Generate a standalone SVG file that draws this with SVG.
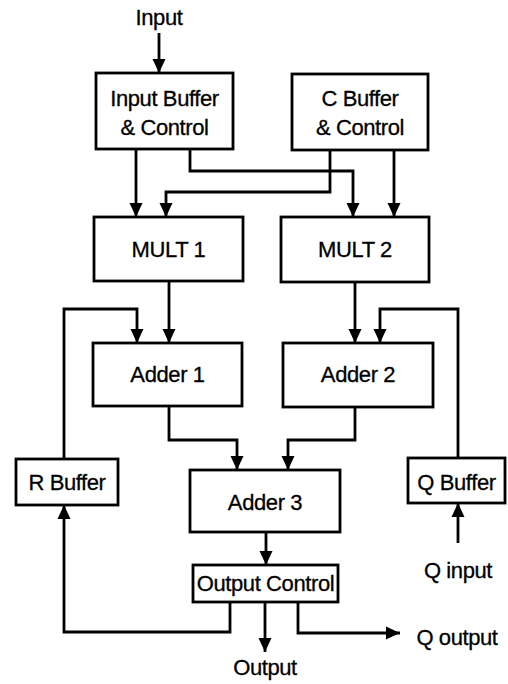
<svg xmlns="http://www.w3.org/2000/svg" width="508" height="684" viewBox="0 0 508 684">
  <style>
    .box { fill: #ffffff; stroke: #000000; stroke-width: 2.8; }
    .lbl { font-family: "Liberation Sans", Arial, sans-serif; font-size: 22px; letter-spacing: -0.4px; fill: #000000; stroke: #000000; stroke-width: 0.3; text-anchor: middle; }
    .wire { fill: none; stroke: #000000; stroke-width: 2.8; stroke-linejoin: miter; }
  </style>
  <defs>
    <marker id="arrow" markerUnits="userSpaceOnUse" markerWidth="16" markerHeight="16" viewBox="0 0 16 16" refX="15" refY="8" orient="auto">
      <path d="M1,1.5 L15,8 L1,14.5 Z" fill="#000000"/>
    </marker>
  </defs>
  <rect width="508" height="684" fill="#ffffff"/>

  <!-- free-standing labels -->
  <g id="labels">
    <text class="lbl" x="159" y="25">Input</text>
    <text class="lbl" x="265" y="675">Output</text>
    <text class="lbl" x="458" y="578">Q input</text>
    <text class="lbl" x="457" y="645">Q output</text>
  </g>

  <g id="input-buffer">
    <rect class="box" x="96" y="73" width="137" height="76"/>
    <text class="lbl" x="164.5" y="106">Input Buffer</text>
    <text class="lbl" x="164.5" y="135">&amp; Control</text>
  </g>
  <g id="c-buffer">
    <rect class="box" x="292" y="74" width="136" height="76"/>
    <text class="lbl" x="360" y="106">C Buffer</text>
    <text class="lbl" x="360" y="135">&amp; Control</text>
  </g>
  <g id="mult1">
    <rect class="box" x="94" y="217" width="149" height="64"/>
    <text class="lbl" x="168.5" y="257">MULT 1</text>
  </g>
  <g id="mult2">
    <rect class="box" x="281" y="217" width="148" height="65"/>
    <text class="lbl" x="355" y="257">MULT 2</text>
  </g>
  <g id="adder1">
    <rect class="box" x="93" y="343" width="149" height="63"/>
    <text class="lbl" x="167.5" y="382">Adder 1</text>
  </g>
  <g id="adder2">
    <rect class="box" x="283" y="343" width="150" height="64"/>
    <text class="lbl" x="358" y="382">Adder 2</text>
  </g>
  <g id="adder3">
    <rect class="box" x="190" y="470" width="150" height="62"/>
    <text class="lbl" x="265" y="510">Adder 3</text>
  </g>
  <g id="output-control">
    <rect class="box" x="193" y="565" width="145" height="37"/>
    <text class="lbl" x="265.5" y="591">Output Control</text>
  </g>
  <g id="r-buffer">
    <rect class="box" x="16" y="459" width="102" height="46"/>
    <text class="lbl" x="67" y="490">R Buffer</text>
  </g>
  <g id="q-buffer">
    <rect class="box" x="408" y="458" width="97" height="45"/>
    <text class="lbl" x="456.5" y="490">Q Buffer</text>
  </g>

  <g id="connectors">
    <polyline class="wire" points="159,33 159,73" marker-end="url(#arrow)"/>
    <polyline class="wire" points="136,149 136,217" marker-end="url(#arrow)"/>
    <polyline class="wire" points="190,149 190,171 353,171 353,217" marker-end="url(#arrow)"/>
    <polyline class="wire" points="330,150 330,192 166,192 166,217" marker-end="url(#arrow)"/>
    <polyline class="wire" points="394,150 394,217" marker-end="url(#arrow)"/>
    <polyline class="wire" points="169,281 169,343" marker-end="url(#arrow)"/>
    <polyline class="wire" points="355,282 355,343" marker-end="url(#arrow)"/>
    <polyline class="wire" points="64,459 64,309 137,309 137,343" marker-end="url(#arrow)"/>
    <polyline class="wire" points="458,458 458,309 380,309 380,343" marker-end="url(#arrow)"/>
    <polyline class="wire" points="169,406 169,440 237,440 237,470" marker-end="url(#arrow)"/>
    <polyline class="wire" points="355,407 355,440 288,440 288,470" marker-end="url(#arrow)"/>
    <polyline class="wire" points="266,532 266,565" marker-end="url(#arrow)"/>
    <polyline class="wire" points="230,602 230,632 64,632 64,505" marker-end="url(#arrow)"/>
    <polyline class="wire" points="265,602 265,652" marker-end="url(#arrow)"/>
    <polyline class="wire" points="298,602 298,633 400,633" marker-end="url(#arrow)"/>
    <polyline class="wire" points="458,543 458,503" marker-end="url(#arrow)"/>
  </g>
</svg>
